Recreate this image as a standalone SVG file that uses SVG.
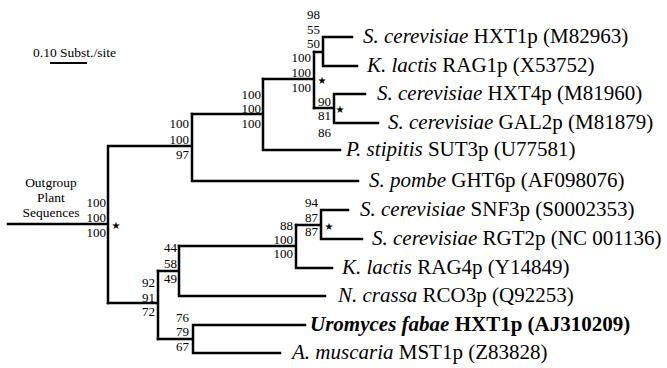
<svg xmlns="http://www.w3.org/2000/svg" width="667" height="368" viewBox="0 0 667 368">
<style>
.br{fill:none;stroke:#000;stroke-width:2.5;stroke-linecap:square}
.tip{font-family:"Liberation Serif","Times New Roman",serif;font-size:21px;fill:#000}
.it{font-style:italic}
.bd{font-weight:bold}
.sup{font-family:"Liberation Serif","Times New Roman",serif;font-size:13px;fill:#000;text-anchor:end}
.sm{font-family:"Liberation Serif","Times New Roman",serif;font-size:13.5px;fill:#000}
.star{font-family:"DejaVu Sans",sans-serif;font-size:10px;fill:#000;text-anchor:middle}
</style>
<rect width="667" height="368" fill="#fff"/>
<g id="scale">
<text class="sm" x="33" y="57">0.10 Subst./site</text>
<path d="M50,63 H87" stroke="#000" stroke-width="2.2"/>
</g>
<g id="connectors">
<path class="br" d="M8,224 H108 M108,146 V303 M108,146 H192 M192,114 V181 M192,181 H358"/>
<path class="br" d="M192,114 H263 M263,79 V150 M263,150 H340"/>
<path class="br" d="M263,79 H314 M314,52 V108"/>
<path class="br" d="M314,52 H323 M323,37 V66 M323,37 H352 M323,66 H357"/>
<path class="br" d="M314,108 H334 M334,94 V123 M334,94 H365 M334,123 H378"/>
<path class="br" d="M108,303 H158 M158,271 V339"/>
<path class="br" d="M158,271 H179 M179,246 V296 M179,296 H325"/>
<path class="br" d="M179,246 H296 M296,225 V268 M296,268 H332"/>
<path class="br" d="M296,225 H321 M321,210 V239 M321,210 H348 M321,239 H362"/>
<path class="br" d="M158,339 H193 M193,325 V353 M193,325 H305 M193,353 H280"/>
</g>
<g id="outgroup">
<text class="sm" x="51" y="187" text-anchor="middle">Outgroup</text>
<text class="sm" x="51" y="202" text-anchor="middle">Plant</text>
<text class="sm" x="51" y="217" text-anchor="middle">Sequences</text>
</g>
<g id="tip-hxt1"><text class="tip" x="363" y="43"><tspan class="it">S. cerevisiae</tspan> HXT1p (M82963)</text></g>
<g id="tip-rag1"><text class="tip" x="367" y="72"><tspan class="it">K. lactis</tspan> RAG1p (X53752)</text></g>
<g id="tip-hxt4"><text class="tip" x="377" y="100"><tspan class="it">S. cerevisiae</tspan> HXT4p (M81960)</text></g>
<g id="tip-gal2"><text class="tip" x="388" y="129"><tspan class="it">S. cerevisiae</tspan> GAL2p (M81879)</text></g>
<g id="tip-sut3"><text class="tip" x="346" y="156"><tspan class="it">P. stipitis</tspan> SUT3p (U77581)</text></g>
<g id="tip-ght6"><text class="tip" x="369" y="187"><tspan class="it">S. pombe</tspan> GHT6p (AF098076)</text></g>
<g id="tip-snf3"><text class="tip" x="360" y="216"><tspan class="it">S. cerevisiae</tspan> SNF3p (S0002353)</text></g>
<g id="tip-rgt2"><text class="tip" x="372" y="245"><tspan class="it">S. cerevisiae</tspan> RGT2p (NC 001136)</text></g>
<g id="tip-rag4"><text class="tip" x="342" y="274"><tspan class="it">K. lactis</tspan> RAG4p (Y14849)</text></g>
<g id="tip-rco3"><text class="tip" x="338" y="302"><tspan class="it">N. crassa</tspan> RCO3p (Q92253)</text></g>
<g id="tip-hxt1uf"><text class="tip bd" x="310" y="331"><tspan class="it">Uromyces fabae</tspan> HXT1p (AJ310209)</text></g>
<g id="tip-mst1"><text class="tip" x="292" y="359"><tspan class="it">A. muscaria</tspan> MST1p (Z83828)</text></g>
<g id="node-n1"><text class="sup" x="320" y="19">98</text><text class="sup" x="320" y="34">55</text><text class="sup" x="320" y="48">50</text></g>
<g id="node-n2"><text class="sup" x="311" y="62">100</text><text class="sup" x="311" y="77">100</text><text class="sup" x="311" y="92">100</text><text class="star" x="322" y="84">★</text></g>
<g id="node-n3"><text class="sup" x="331" y="106">90</text><text class="sup" x="331" y="120">81</text><text class="sup" x="331" y="137">86</text><text class="star" x="340" y="113">★</text></g>
<g id="node-n4"><text class="sup" x="261" y="99">100</text><text class="sup" x="261" y="113">100</text><text class="sup" x="261" y="128">100</text></g>
<g id="node-n5"><text class="sup" x="189" y="128">100</text><text class="sup" x="189" y="144">100</text><text class="sup" x="189" y="159">97</text></g>
<g id="node-root"><text class="sup" x="106" y="207">100</text><text class="sup" x="106" y="222">100</text><text class="sup" x="106" y="237">100</text><text class="star" x="116" y="229">★</text></g>
<g id="node-l1"><text class="sup" x="318" y="207">94</text><text class="sup" x="318" y="222">87</text><text class="sup" x="318" y="236">87</text><text class="star" x="329" y="230">★</text></g>
<g id="node-l2"><text class="sup" x="293" y="229.5">88</text><text class="sup" x="293" y="243.5">100</text><text class="sup" x="293" y="258">100</text></g>
<g id="node-l3"><text class="sup" x="177" y="252">44</text><text class="sup" x="177" y="268">58</text><text class="sup" x="177" y="283">49</text></g>
<g id="node-l4"><text class="sup" x="155" y="287">92</text><text class="sup" x="155" y="302">91</text><text class="sup" x="155" y="316">72</text></g>
<g id="node-l5"><text class="sup" x="189" y="321.5">76</text><text class="sup" x="189" y="336">79</text><text class="sup" x="189" y="350.5">67</text></g>
</svg>
